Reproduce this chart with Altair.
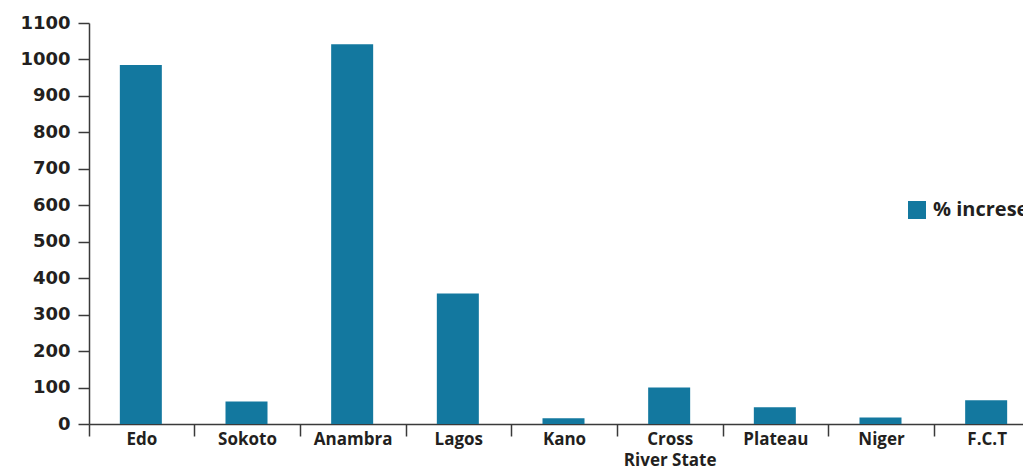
import altair as alt
import pandas as pd

states = ["Edo", "Sokoto", "Anambra", "Lagos", "Kano", "Cross River State", "Plateau", "Niger", "F.C.T"]
values = [985, 62, 1042, 358, 16, 100, 46, 18, 65]
series = "% increse"
y_ticks = [0, 100, 200, 300, 400, 500, 600, 700, 800, 900, 1000, 1100]

df = pd.DataFrame({"State": states, "Value": values, "Series": [series] * len(states)})

bar_color = "#13789f"
axis_color = "#3a3a3a"
text_color = "#231f20"

chart = alt.Chart(df).mark_bar(width=42, xOffset=-1).encode(
    x=alt.X(
        "State:N",
        sort=states,
        scale=alt.Scale(range=[0, 951], paddingInner=0, paddingOuter=0),
        axis=alt.Axis(
            title=None,
            labelAngle=0,
            bandPosition=0,
            tickSize=12,
            tickWidth=1.5,
            tickColor=axis_color,
            domainColor=axis_color,
            domainWidth=1.5,
            labelFont="Open Sans",
            labelFontWeight="bold",
            labelFontSize=17,
            labelColor=text_color,
            labelPadding=-5,
            labelLineHeight=21,
            labelExpr="datum.value == 'Cross River State' ? ['Cross', 'River State'] : datum.value",
        ),
    ),
    y=alt.Y(
        "Value:Q",
        scale=alt.Scale(domain=[0, 1100], nice=False),
        axis=alt.Axis(
            title=None,
            values=y_ticks,
            format="d",
            grid=False,
            tickSize=11,
            tickWidth=1.5,
            tickColor=axis_color,
            domainColor=axis_color,
            domainWidth=1.5,
            labelFont="DejaVu Sans",
            labelFontWeight="bold",
            labelFontSize=18,
            labelColor=text_color,
            labelPadding=8,
        ),
    ),
    color=alt.Color(
        "Series:N",
        scale=alt.Scale(range=[bar_color]),
        legend=alt.Legend(
            title=None,
            orient="none",
            legendX=818,
            legendY=177,
            symbolType="square",
            symbolSize=324,
            symbolStrokeWidth=0,
            symbolOpacity=1,
            labelFont="Open Sans",
            labelFontWeight="bold",
            labelFontSize=20,
            labelColor=text_color,
            labelOffset=6,
            padding=0,
        ),
    ),
).properties(
    width=934,
    height=401,
    padding={"left": 89, "top": 23, "right": 0, "bottom": 44},
    autosize=alt.AutoSizeParams(type="none"),
).configure_view(stroke=None)

chart.save("out.html", embed_options={"renderer": "svg", "actions": False})
